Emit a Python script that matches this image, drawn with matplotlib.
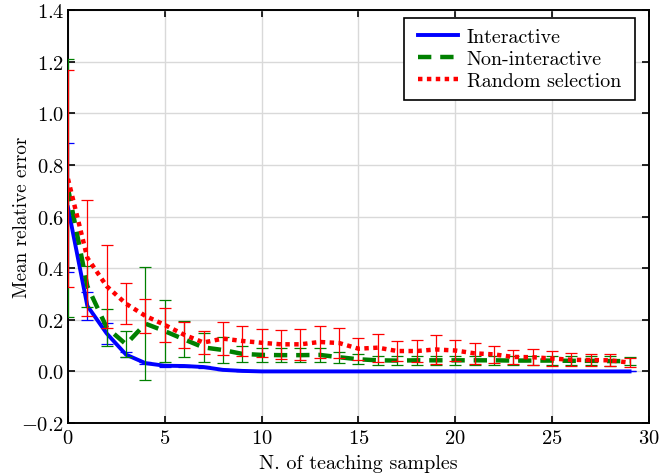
import numpy as np
import matplotlib
matplotlib.use("Agg")
import matplotlib.pyplot as plt
from matplotlib.ticker import FuncFormatter

# Dados
x = np.arange(30)

inter_mean = [0.635, 0.254, 0.147, 0.065, 0.032, 0.022, 0.021, 0.017, 0.006, 0.002,
              0.0, 0.0, 0.0, 0.0, 0.0, 0.0, 0.0, 0.0, 0.0, 0.0,
              0.0, 0.0, 0.0, 0.0, 0.0, 0.0, 0.0, 0.0, 0.0, 0.0]
inter_std = [0.25, 0.055, 0.04, 0.01, 0.005, 0.003, 0.003, 0.003, 0.002, 0.001,
             0.0, 0.0, 0.0, 0.0, 0.0, 0.0, 0.0, 0.0, 0.0, 0.0,
             0.0, 0.0, 0.0, 0.0, 0.0, 0.0, 0.0, 0.0, 0.0, 0.0]

nonint_mean = [0.71, 0.33, 0.17, 0.105, 0.185, 0.156, 0.124, 0.093, 0.083, 0.068,
               0.064, 0.063, 0.063, 0.064, 0.055, 0.047, 0.043, 0.042, 0.043, 0.043,
               0.043, 0.043, 0.043, 0.042, 0.042, 0.042, 0.041, 0.041, 0.040, 0.040]
nonint_std = [0.5, 0.08, 0.07, 0.05, 0.22, 0.12, 0.07, 0.055, 0.05, 0.032,
              0.028, 0.027, 0.027, 0.027, 0.022, 0.02, 0.018, 0.018, 0.018, 0.018,
              0.018, 0.018, 0.018, 0.018, 0.018, 0.018, 0.018, 0.018, 0.018, 0.016]

rand_mean = [0.746, 0.44, 0.33, 0.262, 0.215, 0.18, 0.142, 0.112, 0.127, 0.118,
             0.111, 0.105, 0.105, 0.114, 0.11, 0.088, 0.092, 0.079, 0.079, 0.085,
             0.081, 0.07, 0.066, 0.056, 0.055, 0.05, 0.045, 0.044, 0.043, 0.034]
rand_std = [0.42, 0.225, 0.16, 0.08, 0.067, 0.065, 0.05, 0.045, 0.065, 0.058,
            0.055, 0.055, 0.06, 0.062, 0.058, 0.042, 0.054, 0.037, 0.041, 0.056,
            0.041, 0.04, 0.034, 0.027, 0.032, 0.028, 0.025, 0.024, 0.023, 0.018]

labels = ["Interactive", "Non-interactive", "Random selection"]

# Estilo tipo LaTeX
plt.rcParams["font.family"] = "serif"
plt.rcParams["font.serif"] = ["cmr10"]
plt.rcParams["mathtext.fontset"] = "cm"
plt.rcParams["axes.unicode_minus"] = False

fig = plt.figure(figsize=(6.69, 4.77), dpi=100)
ax = fig.add_axes([0.1016, 0.111, 0.8684, 0.866])

ebkw = dict(elinewidth=0.9, capsize=4, capthick=0.9)
ax.errorbar(x, inter_mean, yerr=inter_std, color="#0000ff", lw=2.8, ls="-",
            label=labels[0], zorder=3, **ebkw)
ax.errorbar(x, nonint_mean, yerr=nonint_std, color="#008000", lw=3.2, ls="--",
            dashes=(3, 2), label=labels[1], zorder=4, **ebkw)
ax.errorbar(x, rand_mean, yerr=rand_std, color="#ff0000", lw=3.2, ls=":",
            dashes=(1, 1), label=labels[2], zorder=5, **ebkw)

ax.set_xlim(0, 30)
ax.set_ylim(-0.2, 1.4)
ax.set_xticks(np.arange(0, 31, 5))
ax.set_yticks(np.arange(-0.2, 1.41, 0.2))
ax.xaxis.set_major_formatter(FuncFormatter(lambda v, p: f"${v:.0f}$"))
ax.yaxis.set_major_formatter(FuncFormatter(lambda v, p: f"${v:.1f}$" if abs(v) > 1e-9 else "$0.0$"))
ax.tick_params(direction="in", top=True, right=True, labelsize=14.8, length=5, width=1.2)
ax.tick_params(axis="y", pad=2.5)
ax.tick_params(axis="x", pad=4)
ax.grid(True, color="#d9d9d9", lw=1.0)
ax.set_axisbelow(True)
for s in ax.spines.values():
    s.set_linewidth(1.4)

ax.set_xlabel("N. of teaching samples", fontsize=14.5, labelpad=5.5)
ax.set_ylabel("Mean relative error", fontsize=13.8)
ax.yaxis.set_label_coords(-0.064, 0.5)

handles, labs = ax.get_legend_handles_labels()
handles = [h[0] for h in handles]
leg = ax.legend(handles, labs, loc="upper right", bbox_to_anchor=(0.969, 0.9806),
                borderaxespad=0, fontsize=14.4, fancybox=False,
                edgecolor="black", framealpha=1, handlelength=2.0, handletextpad=0.45,
                borderpad=0.5, labelspacing=0.2)
frame = leg.get_frame()
frame.set_linewidth(1.2)
# um pouco mais de margem horizontal na caixa da legenda
frame.set_boxstyle("square", pad=0.2)
frame.set_mutation_aspect(0.01)

fig.savefig("out.png", dpi=100)
